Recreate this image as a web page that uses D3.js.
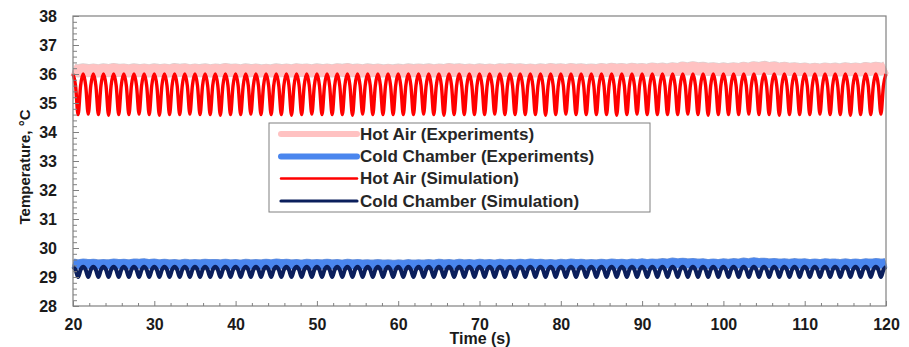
<!DOCTYPE html>
<html>
<head>
<meta charset="utf-8">
<script src="https://cdn.jsdelivr.net/npm/d3@7/dist/d3.min.js"></script>
<style>
  html, body { margin: 0; padding: 0; background: #fff; }
  svg { display: block; font-family: "Liberation Sans", Arial, sans-serif; }
</style>
</head>
<body>
<svg id="chart" width="909" height="347"></svg>
<script>
// Temperature traces, 20–120 s
const xTicks = [20, 30, 40, 50, 60, 70, 80, 90, 100, 110, 120];
const yTicks = [28, 29, 30, 31, 32, 33, 34, 35, 36, 37, 38];

// simulation curves sampled every 0.3125 s starting at 20 s
const simStart = 20, simStep = 0.3125;
const hotAirSim = [
  36,35.6,34.6,35.6, 36,35.6,34.62,35.6, 36,35.6,34.6,35.6, 36,35.6,34.58,35.6,
  36,35.6,34.6,35.6, 36,35.6,34.6,35.6, 36,35.6,34.62,35.6, 36,35.6,34.6,35.6,
  36,35.6,34.58,35.6, 36,35.6,34.6,35.6, 36,35.6,34.6,35.6, 36,35.6,34.62,35.6,
  36,35.6,34.6,35.6, 36,35.6,34.6,35.6, 36,35.6,34.58,35.6, 36,35.6,34.6,35.6,
  36,35.6,34.6,35.6, 36,35.6,34.62,35.6, 36,35.6,34.6,35.6, 36,35.6,34.6,35.6,
  36,35.6,34.6,35.6, 36,35.6,34.58,35.6, 36,35.6,34.6,35.6, 36,35.6,34.62,35.6,
  36,35.6,34.6,35.6, 36,35.6,34.6,35.6, 36,35.6,34.6,35.6, 36,35.6,34.58,35.6,
  36,35.6,34.62,35.6, 36,35.6,34.6,35.6, 36,35.6,34.6,35.6, 36,35.6,34.6,35.6,
  36,35.6,34.6,35.6, 36,35.6,34.6,35.6, 36,35.6,34.62,35.6, 36,35.6,34.6,35.6,
  36,35.6,34.58,35.6, 36,35.6,34.6,35.6, 36,35.6,34.6,35.6, 36,35.6,34.6,35.6,
  36,35.6,34.6,35.6, 36,35.6,34.62,35.6, 36,35.6,34.6,35.6, 36,35.6,34.6,35.6,
  36,35.6,34.6,35.6, 36,35.6,34.6,35.6, 36,35.6,34.58,35.6, 36,35.6,34.6,35.6,
  36,35.6,34.62,35.6, 36,35.6,34.6,35.6, 36,35.6,34.6,35.6, 36,35.6,34.6,35.6,
  36,35.6,34.6,35.6, 36,35.6,34.58,35.6, 36,35.6,34.6,35.6, 36,35.6,34.62,35.6,
  36,35.6,34.6,35.6, 36,35.6,34.6,35.6, 36,35.6,34.6,35.6, 36,35.6,34.6,35.6,
  36,35.6,34.62,35.6, 36,35.6,34.6,35.6, 36,35.6,34.58,35.6, 36,35.6,34.6,35.6,
  36,35.6,34.6,35.6, 36,35.6,34.6,35.6, 36,35.6,34.62,35.6, 36,35.6,34.6,35.6,
  36,35.6,34.6,35.6, 36,35.6,34.58,35.6, 36,35.6,34.6,35.6, 36,35.6,34.6,35.6,
  36,35.6,34.6,35.6, 36,35.6,34.62,35.6, 36,35.6,34.6,35.6, 36,35.6,34.6,35.6,
  36,35.6,34.58,35.6, 36,35.6,34.6,35.6, 36,35.6,34.6,35.6, 36,35.6,34.62,35.6,
  36
];
const coldChamberSim = [
  29.35,29.25,29,29.25, 29.35,29.25,29,29.25, 29.35,29.25,29,29.25, 29.35,29.25,29,29.25,
  29.35,29.25,29,29.25, 29.35,29.25,29,29.25, 29.35,29.25,29,29.25, 29.35,29.25,29,29.25,
  29.35,29.25,29,29.25, 29.35,29.25,29,29.25, 29.35,29.25,29,29.25, 29.35,29.25,29,29.25,
  29.35,29.25,29,29.25, 29.35,29.25,29,29.25, 29.35,29.25,29,29.25, 29.35,29.25,29,29.25,
  29.35,29.25,29,29.25, 29.35,29.25,29,29.25, 29.35,29.25,29,29.25, 29.35,29.25,29,29.25,
  29.35,29.25,29,29.25, 29.35,29.25,29,29.25, 29.35,29.25,29,29.25, 29.35,29.25,29,29.25,
  29.35,29.25,29,29.25, 29.35,29.25,29,29.25, 29.35,29.25,29,29.25, 29.35,29.25,29,29.25,
  29.35,29.25,29,29.25, 29.35,29.25,29,29.25, 29.35,29.25,29,29.25, 29.35,29.25,29,29.25,
  29.35,29.25,29,29.25, 29.35,29.25,29,29.25, 29.35,29.25,29,29.25, 29.35,29.25,29,29.25,
  29.35,29.25,29,29.25, 29.35,29.25,29,29.25, 29.35,29.25,29,29.25, 29.35,29.25,29,29.25,
  29.35,29.25,29,29.25, 29.35,29.25,29,29.25, 29.35,29.25,29,29.25, 29.35,29.25,29,29.25,
  29.35,29.25,29,29.25, 29.35,29.25,29,29.25, 29.35,29.25,29,29.25, 29.35,29.25,29,29.25,
  29.35,29.25,29,29.25, 29.35,29.25,29,29.25, 29.35,29.25,29,29.25, 29.35,29.25,29,29.25,
  29.35,29.25,29,29.25, 29.35,29.25,29,29.25, 29.35,29.25,29,29.25, 29.35,29.25,29,29.25,
  29.35,29.25,29,29.25, 29.35,29.25,29,29.25, 29.35,29.25,29,29.25, 29.35,29.25,29,29.25,
  29.35,29.25,29,29.25, 29.35,29.25,29,29.25, 29.35,29.25,29,29.25, 29.35,29.25,29,29.25,
  29.35,29.25,29,29.25, 29.35,29.25,29,29.25, 29.35,29.25,29,29.25, 29.35,29.25,29,29.25,
  29.35,29.25,29,29.25, 29.35,29.25,29,29.25, 29.35,29.25,29,29.25, 29.35,29.25,29,29.25,
  29.35,29.25,29,29.25, 29.35,29.25,29,29.25, 29.35,29.25,29,29.25, 29.35,29.25,29,29.25,
  29.35,29.25,29,29.25, 29.35,29.25,29,29.25, 29.35,29.25,29,29.25, 29.35,29.25,29,29.25,
  29.35
];

// measured curves sampled every 0.625 s starting at 20 s
const expStart = 20, expStep = 0.625;
const hotAirExp = [
  36.15,36.08,36.17,36.09,36.16,36.08,36.17,36.09,36.18,36.1,36.16,36.08,36.17,36.09,36.16,36.08,
  36.17,36.09,36.16,36.08,36.18,36.1,36.17,36.08,36.16,36.09,36.17,36.08,36.16,36.09,36.18,36.1,
  36.16,36.08,36.17,36.09,36.16,36.08,36.15,36.08,36.17,36.09,36.16,36.08,36.17,36.1,36.16,36.08,
  36.17,36.09,36.16,36.08,36.17,36.1,36.18,36.09,36.16,36.08,36.17,36.09,36.16,36.08,36.15,36.08,
  36.16,36.08,36.17,36.09,36.16,36.09,36.17,36.08,36.16,36.09,36.18,36.1,36.17,36.09,36.16,36.08,
  36.17,36.09,36.16,36.08,36.17,36.1,36.18,36.1,36.17,36.09,36.16,36.08,36.17,36.09,36.18,36.1,
  36.17,36.09,36.18,36.1,36.17,36.09,36.16,36.09,36.18,36.1,36.19,36.11,36.18,36.1,36.19,36.11,
  36.18,36.1,36.2,36.12,36.19,36.11,36.21,36.12,36.24,36.14,36.25,36.15,36.22,36.13,36.21,36.12,
  36.2,36.12,36.21,36.12,36.23,36.13,36.25,36.15,36.26,36.16,36.24,36.14,36.23,36.13,36.21,36.12,
  36.2,36.11,36.19,36.11,36.2,36.12,36.19,36.11,36.21,36.12,36.2,36.11,36.22,36.13,36.23,36.14,
  36.22
];
const coldChamberExp = [
  29.47,29.42,29.48,29.43,29.47,29.42,29.46,29.42,29.48,29.43,29.47,29.42,29.48,29.44,29.49,29.43,
  29.48,29.42,29.47,29.42,29.46,29.41,29.47,29.42,29.46,29.42,29.47,29.43,29.46,29.42,29.47,29.42,
  29.46,29.41,29.47,29.42,29.46,29.42,29.47,29.42,29.48,29.43,29.47,29.42,29.46,29.41,29.47,29.42,
  29.46,29.42,29.47,29.42,29.46,29.41,29.47,29.42,29.46,29.42,29.45,29.41,29.46,29.41,29.45,29.4,
  29.45,29.4,29.46,29.41,29.45,29.41,29.46,29.41,29.47,29.42,29.46,29.41,29.47,29.42,29.46,29.41,
  29.47,29.42,29.46,29.41,29.47,29.42,29.46,29.42,29.47,29.42,29.48,29.43,29.47,29.42,29.46,29.41,
  29.47,29.42,29.48,29.43,29.47,29.42,29.46,29.42,29.47,29.42,29.48,29.43,29.47,29.42,29.48,29.43,
  29.49,29.43,29.48,29.43,29.5,29.44,29.52,29.45,29.51,29.45,29.5,29.44,29.49,29.43,29.48,29.43,
  29.49,29.43,29.5,29.44,29.52,29.45,29.53,29.46,29.51,29.45,29.5,29.44,29.49,29.43,29.5,29.44,
  29.49,29.43,29.48,29.43,29.49,29.44,29.48,29.42,29.49,29.43,29.48,29.43,29.49,29.44,29.5,29.44,
  29.49
];

const legendLabels = [
  "Hot Air (Experiments)",
  "Cold Chamber (Experiments)",
  "Hot Air (Simulation)",
  "Cold Chamber (Simulation)"
];

const svg = d3.select("#chart");
const plot = { left: 73, right: 886, top: 16, bottom: 306 };

const x = d3.scaleLinear().domain([20, 120]).range([plot.left, plot.right]);
const y = d3.scaleLinear().domain([28, 38]).range([plot.bottom, plot.top]);

const toPoints = (vals, start, step) => vals.map((v, i) => [start + i * step, v]);

const series = [
  { pts: toPoints(hotAirExp, expStart, expStep), color: "#ffc2c2", width: 12, halo: "#c9bcbc", curve: d3.curveBasis },
  { pts: toPoints(coldChamberExp, expStart, expStep), color: "#4a86ee", width: 9, halo: "#3f6fc4", curve: d3.curveBasis },
  { pts: toPoints(hotAirSim, simStart, simStep), color: "#ff0000", width: 3.4, curve: d3.curveMonotoneX },
  { pts: toPoints(coldChamberSim, simStart, simStep), color: "#0b1f5c", width: 4, curve: d3.curveMonotoneX }
];

const gLines = svg.append("g");
series.forEach(s => {
  const line = d3.line().x(d => x(d[0])).y(d => y(d[1])).curve(s.curve);
  if (s.halo) {
    gLines.append("path").attr("d", line(s.pts)).attr("fill", "none")
      .attr("stroke", s.halo).attr("stroke-width", s.width + 1.2)
      .attr("stroke-opacity", 0.7).attr("stroke-linejoin", "round");
  }
  gLines.append("path").attr("d", line(s.pts)).attr("fill", "none")
    .attr("stroke", s.color).attr("stroke-width", s.width)
    .attr("stroke-linejoin", "round").attr("stroke-linecap", "butt");
});

// frame
svg.append("rect")
  .attr("x", plot.left).attr("y", plot.top)
  .attr("width", plot.right - plot.left).attr("height", plot.bottom - plot.top)
  .attr("fill", "none").attr("stroke", "#808080").attr("stroke-width", 1.2);

// axes with inward ticks
const axisColor = "#808080";
const labelColor = "#1a1a1a";

const yMinor = d3.range(0, 51).map(i => 28 + i * 0.2).filter(v => Math.abs(v - Math.round(v)) > 1e-6);
svg.append("g").attr("transform", `translate(${plot.left},0)`)
  .call(d3.axisLeft(y).tickValues(yMinor).tickSize(-4).tickFormat(""))
  .call(g => { g.select(".domain").remove(); g.selectAll("line").attr("stroke", axisColor); });
svg.append("g").attr("transform", `translate(${plot.left},0)`)
  .call(d3.axisLeft(y).tickValues(yTicks).tickSize(-6).tickPadding(16).tickFormat(d3.format("d")))
  .call(g => {
    g.select(".domain").remove();
    g.selectAll("line").attr("stroke", axisColor);
    g.selectAll("text").attr("fill", labelColor).style("font-size", "16px").style("font-weight", "bold");
  });

const xMinor = d3.range(20, 121, 2).filter(v => v % 10 !== 0);
svg.append("g").attr("transform", `translate(0,${plot.bottom})`)
  .call(d3.axisBottom(x).tickValues(xMinor).tickSize(-3).tickFormat(""))
  .call(g => { g.select(".domain").remove(); g.selectAll("line").attr("stroke", axisColor); });
svg.append("g").attr("transform", `translate(0,${plot.bottom})`)
  .call(d3.axisBottom(x).tickValues(xTicks).tickSize(-5).tickPadding(13).tickFormat(d3.format("d")))
  .call(g => {
    g.select(".domain").remove();
    g.selectAll("line").attr("stroke", axisColor);
    g.selectAll("text").attr("fill", labelColor).style("font-size", "16px").style("font-weight", "bold");
  });

// axis titles (the time title sits tight under the 70 label)
svg.append("text")
  .attr("x", 480).attr("y", 344)
  .attr("text-anchor", "middle")
  .attr("fill", labelColor)
  .style("font-size", "16px").style("font-weight", "bold")
  .text("Time (s)");

svg.append("text")
  .attr("transform", "translate(30,167) rotate(-90)")
  .attr("text-anchor", "middle")
  .attr("fill", labelColor)
  .style("font-size", "15px").style("font-weight", "bold")
  .text("Temperature, °C");

// legend
const legend = svg.append("g");
legend.append("rect")
  .attr("x", 269).attr("y", 123).attr("width", 381).attr("height", 89)
  .attr("fill", "#fff").attr("stroke", "#808080").attr("stroke-width", 1);
const rowY = [134, 156.5, 178.5, 201];
series.forEach((s, i) => {
  legend.append("line")
    .attr("x1", 281).attr("x2", 357).attr("y1", rowY[i]).attr("y2", rowY[i])
    .attr("stroke", s.color)
    .attr("stroke-width", i < 2 ? 6 : (i === 2 ? 2.5 : 3.2))
    .attr("stroke-linecap", "round");
  legend.append("text")
    .attr("x", 360).attr("y", rowY[i]).attr("dy", "0.35em")
    .attr("fill", "#262626")
    .style("font-size", "17px").style("font-weight", "bold")
    .text(legendLabels[i]);
});
</script>
</body>
</html>
